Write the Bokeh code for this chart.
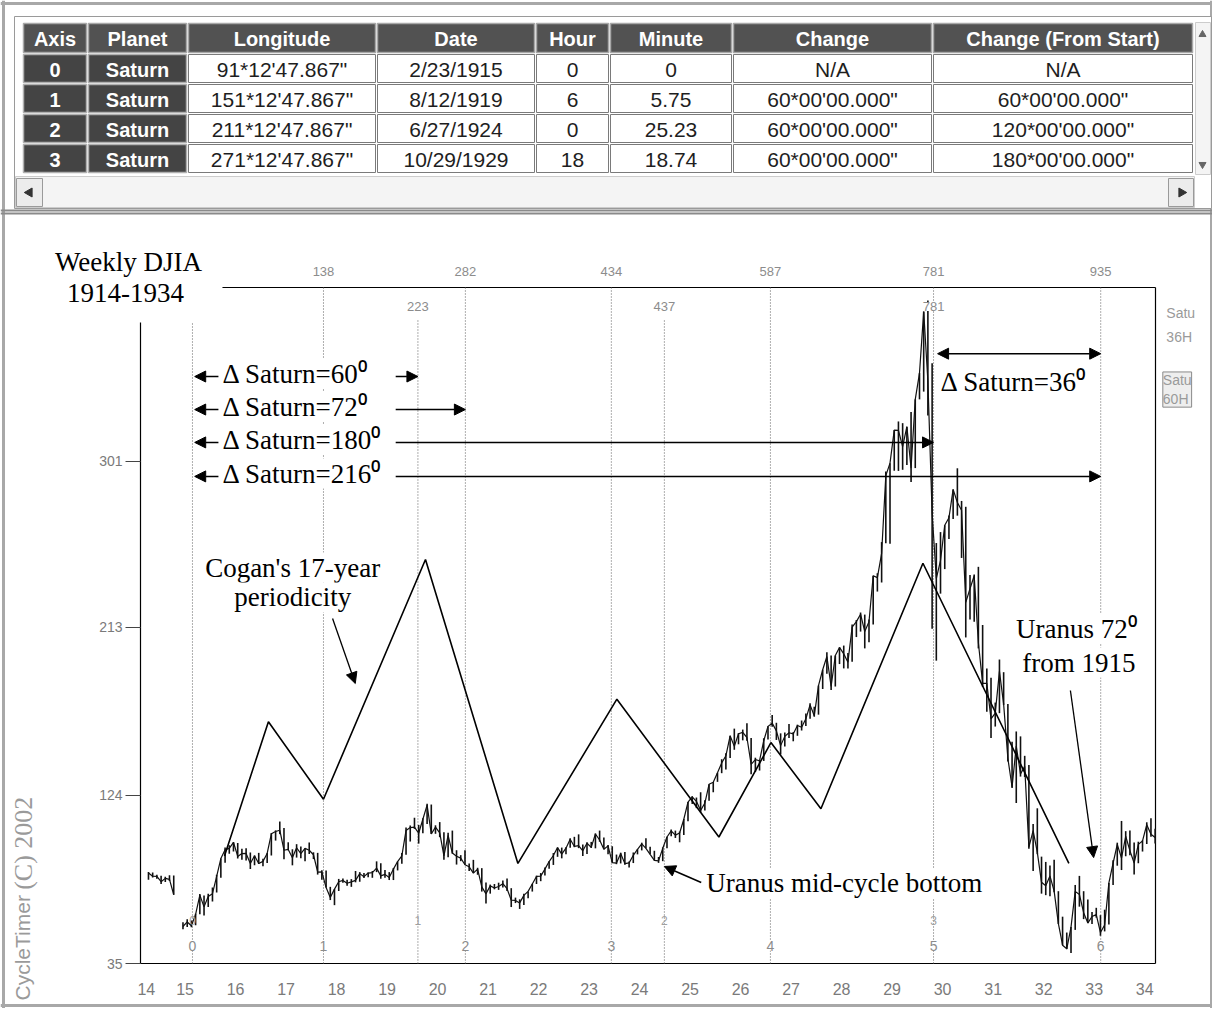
import math
from bokeh.plotting import figure
from bokeh.models import (Range1d, FixedTicker, Label, Arrow, NormalHead, BoxAnnotation)
from bokeh.core.properties import value
from bokeh.embed import file_html
from bokeh.resources import INLINE

# ------------------------------------------------------------------ table data
TABLE_HEADERS = ["Axis", "Planet", "Longitude", "Date", "Hour", "Minute",
                 "Change", "Change (From Start)"]
AXIS_IDS = ["0", "1", "2", "3"]
PLANETS = ["Saturn", "Saturn", "Saturn", "Saturn"]
LONGITUDES = ["91*12'47.867\"", "151*12'47.867\"", "211*12'47.867\"", "271*12'47.867\""]
DATES = ["2/23/1915", "8/12/1919", "6/27/1924", "10/29/1929"]
HOURS = ["0", "6", "0", "18"]
MINUTES = ["0", "5.75", "25.23", "18.74"]
CHANGES = ["N/A", "60*00'00.000\"", "60*00'00.000\"", "60*00'00.000\""]
CHANGES_FROM_START = ["N/A", "60*00'00.000\"", "120*00'00.000\"", "180*00'00.000\""]

# ------------------------------------------------------------------ DJIA data (monthly high / low / close)
MONTHS = (["1914-%02d" % m for m in range(1, 8)] + ["1914-12"]
          + ["%d-%02d" % (y, m) for y in range(1915, 1934) for m in range(1, 13)]
          + ["1934-01", "1934-02", "1934-03"])

DJIA_HIGH = [
    83.4, 83.2, 82.0, 81.5, 81.0, 81.8, 81.6, 56.8,                                   # 1914
    58.5, 57.8, 61.3, 71.8, 71.0, 71.9, 75.3, 82.0, 90.6, 96.5, 97.6, 99.2,           # 1915
    98.8, 95.8, 96.1, 93.8, 92.2, 93.6, 90.5, 93.5, 104.1, 105.5, 110.2, 106.8,       # 1916
    99.2, 95.5, 98.2, 97.0, 96.0, 99.1, 93.9, 93.6, 84.4, 84.3, 75.6, 74.4,           # 1917
    79.8, 80.0, 79.4, 79.7, 84.0, 83.4, 82.9, 83.2, 84.0, 89.1, 88.1, 84.5,           # 1918
    83.4, 85.6, 89.0, 93.5, 107.0, 108.1, 112.2, 108.4, 111.9, 119.6, 119.2, 108.2,   # 1919
    109.9, 104.5, 104.2, 105.4, 95.0, 92.4, 95.0, 88.0, 89.9, 85.7, 85.5, 77.9,       # 1920
    76.8, 77.1, 77.8, 78.9, 80.0, 74.9, 69.9, 69.0, 71.9, 73.2, 77.2, 81.5,           # 1921
    82.9, 85.8, 89.1, 93.5, 96.4, 96.4, 96.6, 101.4, 102.1, 103.4, 98.0, 99.2,        # 1922
    99.4, 103.9, 105.4, 101.8, 97.7, 97.1, 92.7, 93.7, 94.0, 89.0, 93.8, 95.5,        # 1923
    99.0, 101.3, 96.8, 94.7, 91.4, 96.5, 102.1, 106.0, 105.4, 104.9, 111.5, 120.5,    # 1924
    123.6, 122.9, 125.7, 121.5, 129.9, 131.1, 136.0, 143.2, 146.4, 155.6, 159.4, 157.0,  # 1925
    158.9, 162.3, 154.4, 144.0, 142.6, 154.3, 160.6, 166.6, 162.5, 156.9, 157.3, 161.9,  # 1926
    157.6, 161.5, 163.7, 167.4, 172.9, 171.0, 182.2, 190.6, 199.8, 198.1, 198.1, 202.4,  # 1927
    203.4, 199.4, 214.5, 216.9, 220.9, 219.8, 217.2, 240.4, 241.7, 258.2, 295.6, 300.0,  # 1928
    317.5, 322.1, 321.2, 319.3, 327.1, 333.8, 347.7, 380.3, 386.1, 352.9, 257.7, 263.5,  # 1929
    267.1, 272.3, 286.1, 297.3, 280.0, 276.9, 240.8, 241.0, 245.1, 214.3, 191.3, 186.4,  # 1930
    173.2, 196.0, 189.3, 172.4, 152.4, 157.9, 155.3, 145.0, 140.1, 108.9, 117.2, 91.6,   # 1931
    88.8, 86.9, 89.9, 73.3, 59.8, 51.4, 54.3, 76.6, 81.4, 73.3, 68.9, 62.3,           # 1932
    64.5, 60.6, 63.5, 77.7, 89.7, 99.0, 110.5, 105.1, 105.5, 99.1, 99.5, 100.2,       # 1933
    109.8, 111.9, 106.4,                                                              # 1934
]
DJIA_LOW = [
    79.4, 80.5, 79.9, 77.1, 78.2, 78.7, 71.4, 53.2,
    54.3, 54.2, 55.3, 61.1, 60.4, 64.9, 67.9, 72.6, 80.4, 88.4, 93.1, 94.3,
    90.6, 90.0, 89.5, 85.0, 87.0, 87.7, 86.5, 88.2, 92.2, 100.1, 103.5, 90.2,
    95.0, 87.0, 91.1, 90.7, 89.1, 93.0, 90.3, 82.1, 79.4, 75.2, 68.6, 65.9,
    73.4, 77.8, 76.2, 75.6, 78.0, 78.3, 80.3, 80.7, 80.4, 83.4, 79.9, 80.4,
    79.2, 79.2, 84.3, 87.8, 92.6, 99.6, 106.3, 98.5, 104.0, 108.9, 103.6, 103.7,
    101.9, 89.9, 91.3, 93.2, 87.4, 89.2, 87.3, 84.0, 82.9, 82.0, 73.1, 66.8,
    72.0, 74.3, 74.0, 75.2, 73.4, 64.9, 67.0, 63.9, 66.0, 69.5, 73.1, 77.1,
    78.6, 81.6, 85.2, 87.2, 91.5, 90.7, 92.9, 96.3, 96.6, 96.1, 92.0, 93.0,
    96.2, 96.0, 99.5, 95.5, 92.8, 88.4, 87.6, 88.0, 87.3, 85.8, 88.2, 92.8,
    94.9, 96.1, 92.8, 89.6, 88.3, 89.2, 96.0, 102.4, 101.5, 99.2, 103.0, 110.4,
    119.5, 117.3, 115.0, 116.0, 121.2, 125.7, 131.2, 135.8, 137.7, 143.9, 148.2, 151.1,
    153.2, 153.0, 135.2, 136.4, 137.2, 142.3, 153.6, 160.4, 153.4, 145.7, 150.0, 154.4,
    152.7, 155.6, 158.4, 160.8, 164.6, 165.7, 166.8, 180.4, 188.5, 179.8, 181.7, 193.6,
    191.3, 191.3, 194.8, 207.9, 210.8, 201.9, 205.1, 214.6, 232.0, 236.8, 257.6, 257.3,
    296.0, 295.9, 296.5, 299.1, 290.0, 297.4, 333.8, 337.9, 325.2, 212.3, 195.4, 230.9,
    243.9, 259.8, 270.4, 272.2, 249.8, 207.7, 217.2, 216.0, 201.9, 181.5, 168.3, 154.5,
    160.5, 167.6, 172.0, 142.0, 127.9, 120.0, 134.0, 133.8, 95.8, 84.0, 92.9, 72.0,
    71.2, 70.6, 72.7, 55.9, 44.7, 42.6, 40.6, 52.8, 65.1, 58.5, 56.4, 55.9,
    59.3, 49.7, 52.0, 55.7, 76.6, 86.8, 84.5, 91.8, 92.4, 82.2, 88.1, 94.3,
    98.3, 102.1, 98.6,
]
DJIA_CLOSE = [
    82.9, 81.2, 81.1, 78.3, 80.1, 79.6, 71.4, 54.6,
    57.0, 55.0, 61.0, 71.2, 65.0, 70.5, 72.0, 81.2, 90.6, 95.3, 96.0, 99.2,
    91.7, 93.2, 93.3, 88.0, 92.1, 88.0, 89.1, 93.3, 103.7, 104.9, 105.6, 95.0,
    95.4, 91.0, 96.3, 93.2, 96.0, 95.0, 92.6, 83.4, 83.5, 75.2, 70.0, 74.4,
    78.3, 79.0, 77.5, 78.2, 79.0, 82.6, 81.0, 82.9, 83.1, 85.5, 81.4, 82.2,
    80.6, 85.0, 89.0, 92.0, 105.5, 107.0, 107.2, 104.0, 111.4, 118.9, 103.6, 107.2,
    104.2, 92.0, 102.8, 93.5, 91.8, 90.8, 87.3, 86.2, 82.9, 85.0, 75.6, 71.9,
    76.1, 75.0, 75.8, 77.3, 74.6, 68.5, 68.4, 67.1, 71.1, 73.2, 77.1, 81.1,
    81.3, 85.0, 89.0, 92.2, 96.4, 92.9, 96.1, 100.8, 97.0, 97.4, 94.7, 98.7,
    96.5, 103.6, 100.4, 95.5, 97.3, 88.4, 88.2, 93.3, 87.9, 88.3, 92.3, 95.5,
    98.4, 96.0, 92.8, 89.6, 89.4, 96.0, 102.0, 105.2, 103.0, 104.1, 111.4, 120.5,
    123.2, 120.9, 116.0, 120.0, 129.9, 131.0, 136.0, 141.2, 145.0, 155.6, 150.0, 156.7,
    157.4, 154.7, 140.5, 143.0, 142.4, 153.0, 160.6, 162.3, 158.2, 150.4, 155.3, 157.2,
    156.6, 161.1, 160.1, 164.6, 172.0, 166.2, 182.2, 190.6, 197.6, 181.7, 198.1, 202.4,
    199.0, 194.6, 213.2, 216.1, 220.0, 210.8, 216.0, 240.4, 239.4, 252.2, 293.4, 300.0,
    317.5, 317.4, 308.8, 319.3, 297.4, 333.8, 347.7, 380.3, 343.5, 273.5, 238.9, 248.5,
    267.1, 271.1, 286.1, 279.2, 275.1, 226.3, 233.5, 240.4, 204.9, 183.4, 183.4, 164.6,
    167.6, 189.7, 172.4, 143.6, 128.5, 150.2, 135.4, 139.4, 96.6, 105.4, 93.9, 78.0,
    76.2, 81.4, 73.3, 56.1, 44.7, 42.8, 54.3, 73.2, 71.6, 61.9, 56.4, 59.9,
    60.9, 51.4, 55.4, 77.7, 88.1, 98.1, 90.8, 102.4, 94.8, 88.2, 98.1, 99.9,
    108.5, 103.5, 101.7,
]

Y_TICKS = [35, 124, 213, 301]
X_TICK_YEARS = list(range(1914, 1935))

# Saturn 36-degree steps (axes 0..6) and Saturn 60-degree steps (table rows 0..3)
SATURN36_DATES = [1915.146, 1917.74, 1920.55, 1923.44, 1926.59, 1929.82, 1933.13]
SATURN36_IDS = ["0", "1", "2", "3", "4", "5", "6"]
SATURN36_BARS = ["", "138", "282", "434", "587", "781", "935"]
SATURN60_DATES = [1915.146, 1919.61, 1924.49, 1929.82]
SATURN60_IDS = ["0", "1", "2", "3"]
SATURN60_BARS = ["", "223", "437", "781"]

# Cogan's 17-year periodicity zig-zag (pivot dates / levels)
COGAN_YEARS = [1915.78, 1916.65, 1917.74, 1919.76, 1921.59, 1923.55, 1925.57,
               1926.60, 1927.59, 1929.61, 1932.50]
COGAN_VALUES = [92, 163, 122, 249, 88, 175, 102, 152, 117, 247, 88]

DELTA_LABELS = ["Δ Saturn=60⁰", "Δ Saturn=72⁰", "Δ Saturn=180⁰", "Δ Saturn=216⁰"]
DELTA_TARGETS = [SATURN60_DATES[1], SATURN36_DATES[2], SATURN36_DATES[5], SATURN36_DATES[6]]

# ------------------------------------------------------------------ layout / style constants
W, H = 1212, 1008
PLOT_L, PLOT_R, PLOT_T, PLOT_B = 140, 1155, 287, 963      # chart box, page pixels
X_START, X_END = 1914.117, 1934.215
Y_MIN, Y_MAX = 35, 393.05
CLOSURE_SHIFT = 0.233          # weekly-bar axis: NYSE closed Aug-Dec 1914
SERIF = "Liberation Serif"
SANS = "Liberation Sans"
PX = dict(x_range_name="px", y_range_name="py")

ppx = (PLOT_R - PLOT_L) / (X_END - X_START)
ppy = (PLOT_B - PLOT_T) / (Y_MAX - Y_MIN)


def chart_time(year, frac):
    t = year + frac
    if t < 1914.6:
        t += CLOSURE_SHIFT
    return round(t, 3)


p = figure(width=W, height=H,
           x_range=Range1d(X_START - PLOT_L / ppx, X_END + (W - PLOT_R) / ppx),
           y_range=Range1d(Y_MIN - (H - PLOT_B) / ppy, Y_MAX + PLOT_T / ppy),
           output_backend="svg", toolbar_location=None, title=None, min_border=0)
p.extra_x_ranges = {"px": Range1d(0, W)}
p.extra_y_ranges = {"py": Range1d(H, 0)}
p.grid.visible = False
p.outline_line_color = None
p.background_fill_color = "white"
p.border_fill_color = "white"

# ================================================================== table (page-pixel ranges)
COL_EDGES = [22, 87, 187, 376, 535, 609, 732, 932, 1193]
ROW_EDGES = [22, 53, 83, 113, 143, 173]

# scanned window border
p.segment(x0=[3, 0, 0, 1211], y0=[0, 3, 1005, 0], x1=[3, W, W, 1211], y1=[H, 3, 1005, H],
          line_color="#a8a8a8", line_width=3, **PX)
p.quad(left=[14], right=[1211], top=[16], bottom=[208], fill_color="white",
       line_color="#9a9a9a", line_width=1, **PX)

ncol = len(TABLE_HEADERS)
lefts = COL_EDGES[:-1]
rights = COL_EDGES[1:]
centers = [(a + b) / 2 for a, b in zip(lefts, rights)]

p.quad(left=[l + 1 for l in lefts], right=[r - 1 for r in rights],
       top=[ROW_EDGES[0] + 1] * ncol, bottom=[ROW_EDGES[1] - 1] * ncol,
       fill_color="#525252", line_color="#a8a8a8", line_width=1.5, **PX)
p.text(x=centers, y=[(ROW_EDGES[0] + ROW_EDGES[1]) / 2 + 1] * ncol, text=TABLE_HEADERS,
       text_font=value(SANS), text_font_style="bold", text_font_size="20px",
       text_color="white", text_align="center", text_baseline="middle", **PX)

columns = [AXIS_IDS, PLANETS, LONGITUDES, DATES, HOURS, MINUTES, CHANGES, CHANGES_FROM_START]
dk = dict(l=[], r=[], t=[], b=[], x=[], y=[], s=[])
lt = dict(l=[], r=[], t=[], b=[], x=[], y=[], s=[])
for c, col in enumerate(columns):
    for r, txt in enumerate(col):
        d = dk if c < 2 else lt
        d["l"].append(lefts[c] + 1)
        d["r"].append(rights[c] - 1)
        d["t"].append(ROW_EDGES[r + 1] + 1)
        d["b"].append(ROW_EDGES[r + 2] - 1)
        d["x"].append(centers[c])
        d["y"].append((ROW_EDGES[r + 1] + ROW_EDGES[r + 2]) / 2 + 1)
        d["s"].append(txt)

p.quad(left=dk["l"], right=dk["r"], top=dk["t"], bottom=dk["b"],
       fill_color="#444444", line_color="#b0b0b0", line_width=1.5, **PX)
p.text(x=dk["x"], y=dk["y"], text=dk["s"], text_font=value(SANS), text_font_style="bold",
       text_font_size="20px", text_color="white", text_align="center",
       text_baseline="middle", **PX)
p.quad(left=lt["l"], right=lt["r"], top=lt["t"], bottom=lt["b"],
       fill_color="white", line_color="#7a7a7a", line_width=1, **PX)
p.text(x=lt["x"], y=lt["y"], text=lt["s"], text_font=value(SANS),
       text_font_size="21px", text_color="#1e1e1e", text_align="center",
       text_baseline="middle", **PX)

# scroll bars
p.quad(left=[15], right=[1194], top=[176], bottom=[207], fill_color="#f4f4f4",
       line_color="#cccccc", **PX)
p.quad(left=[16, 1168], right=[42, 1193], top=[178, 178], bottom=[206, 206],
       fill_color="#ececec", line_color="#9a9a9a", **PX)
p.scatter(x=[29, 1181], y=[192, 192], marker="triangle", size=9,
          angle=[math.pi / 2, -math.pi / 2], fill_color="#333", line_color="#333", **PX)
p.quad(left=[1195], right=[1210], top=[22], bottom=[174], fill_color="#f4f4f4",
       line_color="#cccccc", **PX)
p.scatter(x=[1202, 1202], y=[34, 164], marker="triangle", size=7,
          angle=[0, math.pi], fill_color="#666", line_color="#666", **PX)
# separator between table and chart
p.segment(x0=[0, 0], y0=[210, 213], x1=[W, W], y1=[210, 213],
          line_color="#8a8a8a", line_width=2, **PX)

# ================================================================== chart
for ax in p.yaxis:
    ax.fixed_location = X_START
    ax.ticker = FixedTicker(ticks=Y_TICKS)
    ax.major_tick_out = 15
    ax.major_tick_in = 0
    ax.minor_tick_line_color = None
    ax.major_label_standoff = 3
    ax.major_label_text_color = "#7a7a7a"
    ax.major_label_text_font = SANS
    ax.major_label_text_font_size = "14px"
    ax.axis_line_color = None
    ax.major_tick_line_color = "#444"

x_ticks = [chart_time(y, 0.0) for y in X_TICK_YEARS]
for ax in p.xaxis:
    ax.fixed_location = Y_MIN
    ax.ticker = FixedTicker(ticks=x_ticks)
    ax.major_label_overrides = {t: "%02d" % (y % 100) for t, y in zip(x_ticks, X_TICK_YEARS)}
    ax.major_tick_out = 0
    ax.major_tick_in = 0
    ax.minor_tick_line_color = None
    ax.major_label_standoff = 19
    ax.major_label_text_color = "#7a7a7a"
    ax.major_label_text_font = SANS
    ax.major_label_text_font_size = "16px"
    ax.axis_line_color = None

# chart box
p.segment(x0=[X_START, X_START, X_END, X_START], y0=[Y_MIN, Y_MAX, Y_MIN, Y_MIN],
          x1=[X_START, X_END, X_END, X_END], y1=[Y_MAX, Y_MAX, Y_MAX, Y_MIN],
          line_color="black", line_width=1.2)

# vertical cycle lines
p.segment(x0=SATURN36_DATES, y0=[Y_MIN] * len(SATURN36_DATES), x1=SATURN36_DATES,
          y1=[Y_MAX] * len(SATURN36_DATES), line_color="#5e5e5e", line_width=1,
          line_dash="1 2")
p.segment(x0=SATURN60_DATES[1:3], y0=[Y_MIN] * 2, x1=SATURN60_DATES[1:3], y1=[376.6] * 2,
          line_color="#5e5e5e", line_width=1, line_dash="1 2")

# DJIA weekly-style bars (monthly high-low) and closing line
mx = []
for mlabel in MONTHS:
    yy, mm = (int(v) for v in mlabel.split("-"))
    mx.append(chart_time(yy, (mm - 0.5) / 12))
p.segment(x0=mx, y0=DJIA_LOW, x1=mx, y1=DJIA_HIGH, line_color="#111111", line_width=1.6)
groups_x, groups_y = [[mx[0]]], [[DJIA_CLOSE[0]]]
prev = MONTHS[0]
for i in range(1, len(MONTHS)):
    py_, pm = (int(v) for v in prev.split("-"))
    cy, cm = (int(v) for v in MONTHS[i].split("-"))
    if (cy * 12 + cm) - (py_ * 12 + pm) > 1:
        groups_x.append([])
        groups_y.append([])
    groups_x[-1].append(mx[i])
    groups_y[-1].append(DJIA_CLOSE[i])
    prev = MONTHS[i]
p.multi_line(xs=groups_x, ys=groups_y, line_color="#111111", line_width=1.2)

# Cogan's zig-zag
p.line(COGAN_YEARS, COGAN_VALUES, line_color="black", line_width=1.6)

# white patch where the title block interrupts the chart box
p.add_layout(BoxAnnotation(left=1913.9, right=1915.74, bottom=374.5, top=400.0,
                           fill_color="white", fill_alpha=1.0, line_alpha=0.0,
                           level="annotation"))


def add_text(x, y, text, size="27px", align="left", font=SERIF, color="black",
             bg="white", angle=0.0, border=None):
    p.add_layout(Label(x=x, y=y, text=text, text_font=font, text_font_size=size,
                       text_align=align, text_baseline="middle", text_color=color,
                       background_fill_color=bg, angle=angle,
                       border_line_color=border, level="overlay"))


def add_arrow(x0, y0, x1, y1, both=False, width=1.5):
    def head():
        return NormalHead(size=11, fill_color="black", line_color="black")
    p.add_layout(Arrow(start=head() if both else None, end=head(), x_start=x0,
                       y_start=y0, x_end=x1, y_end=y1, line_width=width,
                       line_color="black", level="overlay"))


# titles
add_text(1913.88, 406.3, "Weekly DJIA", align="center")
add_text(1913.82, 389.9, "1914-1934", align="center")
add_text(1911.78, 15.4, "CycleTimer", size="21px", font=SANS, color="#9a9a9a",
         bg=None, angle=math.pi / 2)
add_text(1911.80, 74.0, "(C) 2002", size="26px", color="#9a9a9a",
         bg=None, angle=math.pi / 2)

# cycle numbers above / below
for x, t in zip(SATURN36_DATES, SATURN36_BARS):
    if t:
        add_text(x, 401.5, t, size="13px", align="center", font=SANS, color="#8c8c8c",
                 bg=None)
for x, t in zip(SATURN60_DATES, SATURN60_BARS):
    if t:
        add_text(x, 383.0, t, size="13px", align="center", font=SANS, color="#8c8c8c")
for x, t in zip(SATURN36_DATES, SATURN36_IDS):
    add_text(x, 44.5, t, size="14px", align="center", font=SANS, color="#8c8c8c")
for x, t in zip(SATURN60_DATES, SATURN60_IDS):
    add_text(x, 57.8, t, size="12px", align="center", font=SANS, color="#a0a0a0",
             bg=None)

# Delta Saturn annotations
DELTA_ROWS = [345.9, 328.4, 311.0, 293.0]
for lab, tgt, yv in zip(DELTA_LABELS, DELTA_TARGETS, DELTA_ROWS):
    add_arrow(1915.66, yv, 1915.19, yv)
    add_text(1915.74, yv + 1.5, lab)
    add_arrow(1919.17, yv, tgt, yv)
add_arrow(1929.90, 358.0, SATURN36_DATES[6], 358.0, both=True)
add_text(1929.96, 343.0, "Δ Saturn=36⁰")

# Cogan label
add_text(1917.13, 244.7, "Cogan's 17-year", align="center")
add_text(1917.13, 228.9, "periodicity", align="center")
add_arrow(1917.92, 217.7, 1918.37, 183.3, width=1.3)

# Uranus labels
add_text(1932.65, 212.4, "Uranus 72⁰", align="center")
add_text(1932.70, 194.4, "from 1915", align="center")
add_arrow(1932.53, 179.6, 1932.99, 91.1, width=1.3)
add_text(1925.32, 77.4, "Uranus mid-cycle bottom")
add_arrow(1925.22, 77.9, 1924.49, 86.4, width=1.6)

# clipped legend fragments on the right edge
add_text(1934.43, 379.8, "Satu", size="14px", font=SANS, color="#9a9a9a", bg=None)
add_text(1934.43, 366.6, "36H", size="14px", font=SANS, color="#9a9a9a", bg=None)
add_text(1934.36, 339.0, "Satu\n60H", size="14px", font=SANS, color="#9a9a9a",
         bg="#eeeeee", border="#8a8a8a")

open("out.html", "w", encoding="utf-8").write(file_html(p, INLINE))
